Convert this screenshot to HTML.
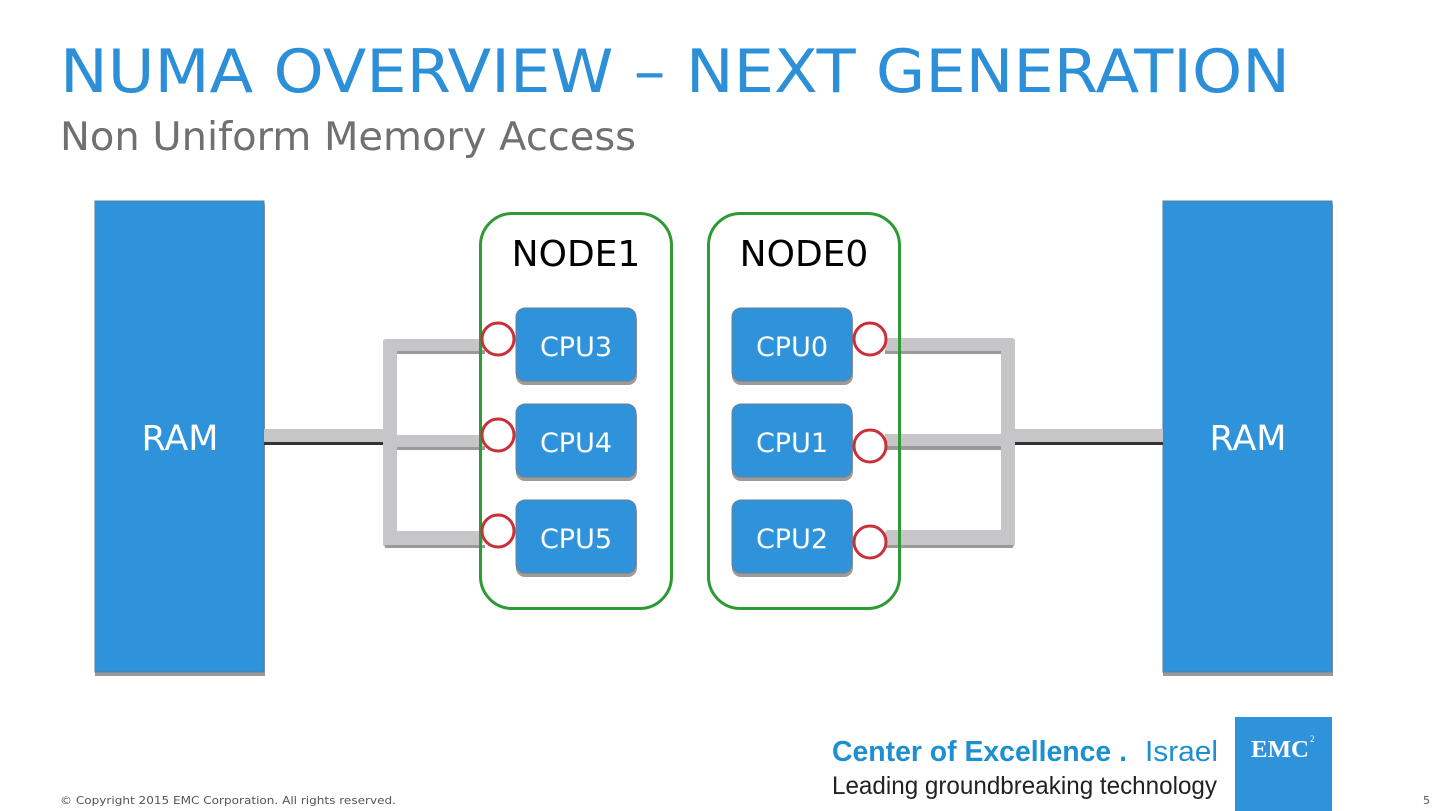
<!DOCTYPE html>
<html><head><meta charset="utf-8"><style>
html,body{margin:0;padding:0;background:#fff;}
svg{display:block;font-family:"DejaVu Sans","Liberation Sans",sans-serif;}
</style></head><body>
<svg width="1440" height="811" viewBox="0 0 1440 811" xmlns="http://www.w3.org/2000/svg">
<text x="60" y="92" font-size="60" fill="#2d8fd8" textLength="1230" lengthAdjust="spacingAndGlyphs">NUMA OVERVIEW – NEXT GENERATION</text>
<text x="60" y="150" font-size="39" fill="#707070" textLength="576" lengthAdjust="spacingAndGlyphs">Non Uniform Memory Access</text>

<!-- RAM boxes -->
<rect x="95" y="204" width="170" height="472" fill="#9a9a9a"/>
<rect x="95" y="201" width="169" height="471" fill="#2f93dc" stroke="#5a7fa0" stroke-width="1"/>
<text x="180" y="450" font-size="35" fill="#fff" text-anchor="middle">RAM</text>
<rect x="1163" y="204" width="170" height="472" fill="#9a9a9a"/>
<rect x="1163" y="201" width="169" height="471" fill="#2f93dc" stroke="#5a7fa0" stroke-width="1"/>
<text x="1248" y="450" font-size="35" fill="#fff" text-anchor="middle">RAM</text>

<!-- left bus -->
<g>
<rect x="264" y="441" width="120" height="4" fill="#333"/>
<rect x="264" y="429" width="120" height="13" fill="#c6c6c8"/>
<rect x="383" y="339" width="14" height="208" rx="3" fill="#c6c6c8"/>
<rect x="385" y="545" width="100" height="3" fill="#9a9a9a"/>
<rect x="397" y="350" width="88" height="4" fill="#9a9a9a"/>
<rect x="397" y="446" width="88" height="4" fill="#9a9a9a"/>
<rect x="383" y="339" width="100" height="12" rx="3" fill="#c6c6c8"/>
<rect x="383" y="435" width="100" height="12" fill="#c6c6c8"/>
<rect x="383" y="531" width="100" height="14" rx="3" fill="#c6c6c8"/>
</g>
<!-- right bus -->
<g>
<rect x="1015" y="441" width="148" height="4" fill="#333"/>
<rect x="1015" y="429" width="148" height="13" fill="#c6c6c8"/>
<rect x="1001" y="339" width="14" height="208" rx="3" fill="#c6c6c8"/>
<rect x="885" y="545" width="128" height="3" fill="#9a9a9a"/>
<rect x="885" y="350" width="116" height="4" fill="#9a9a9a"/>
<rect x="885" y="446" width="116" height="4" fill="#9a9a9a"/>
<rect x="885" y="338" width="130" height="13" rx="3" fill="#c6c6c8"/>
<rect x="885" y="434" width="130" height="12" fill="#c6c6c8"/>
<rect x="885" y="530" width="130" height="15" rx="3" fill="#c6c6c8"/>
</g>

<!-- nodes -->
<rect x="480.5" y="213.5" width="191" height="395" rx="32" fill="none" stroke="#2e9a34" stroke-width="3"/>
<rect x="708.5" y="213.5" width="191" height="395" rx="32" fill="none" stroke="#2e9a34" stroke-width="3"/>
<text x="576" y="266" font-size="36" fill="#000" text-anchor="middle">NODE1</text>
<text x="804" y="266" font-size="36" fill="#000" text-anchor="middle">NODE0</text>

<!-- CPUs -->
<g font-size="27" fill="#fff" text-anchor="middle">
<rect x="516" y="311" width="121" height="74" rx="9" fill="#9a9a9a"/>
<rect x="516" y="308" width="120" height="73" rx="9" fill="#2f93dc" stroke="#6a7f92"/>
<text x="576" y="356">CPU3</text>
<rect x="516" y="407" width="121" height="74" rx="9" fill="#9a9a9a"/>
<rect x="516" y="404" width="120" height="73" rx="9" fill="#2f93dc" stroke="#6a7f92"/>
<text x="576" y="452">CPU4</text>
<rect x="516" y="503" width="121" height="74" rx="9" fill="#9a9a9a"/>
<rect x="516" y="500" width="120" height="73" rx="9" fill="#2f93dc" stroke="#6a7f92"/>
<text x="576" y="548">CPU5</text>
<rect x="732" y="311" width="121" height="74" rx="9" fill="#9a9a9a"/>
<rect x="732" y="308" width="120" height="73" rx="9" fill="#2f93dc" stroke="#6a7f92"/>
<text x="792" y="356">CPU0</text>
<rect x="732" y="407" width="121" height="74" rx="9" fill="#9a9a9a"/>
<rect x="732" y="404" width="120" height="73" rx="9" fill="#2f93dc" stroke="#6a7f92"/>
<text x="792" y="452">CPU1</text>
<rect x="732" y="503" width="121" height="74" rx="9" fill="#9a9a9a"/>
<rect x="732" y="500" width="120" height="73" rx="9" fill="#2f93dc" stroke="#6a7f92"/>
<text x="792" y="548">CPU2</text>
</g>

<!-- ports -->
<g fill="#fff" stroke="#c8313a" stroke-width="3">
<circle cx="498" cy="339" r="16"/>
<circle cx="498" cy="435" r="16"/>
<circle cx="498" cy="531" r="16"/>
<circle cx="870" cy="339" r="16"/>
<circle cx="870" cy="446" r="16"/>
<circle cx="870" cy="542" r="16"/>
</g>

<!-- footer -->
<text x="832" y="761" font-size="29" font-weight="bold" fill="#1e8fd0" font-family="Liberation Sans, sans-serif" textLength="295" lengthAdjust="spacingAndGlyphs">Center of Excellence .</text>
<text x="1145" y="761" font-size="29" fill="#1e8fd0" font-family="Liberation Sans, sans-serif" textLength="73" lengthAdjust="spacingAndGlyphs">Israel</text>
<text x="832" y="794" font-size="25" fill="#222" font-family="Liberation Sans, sans-serif" textLength="385" lengthAdjust="spacingAndGlyphs">Leading groundbreaking technology</text>
<rect x="1235" y="717" width="97" height="94" fill="#2f93dc"/>
<text x="1251" y="757" font-size="24" font-weight="bold" fill="#fff" font-family="Liberation Serif, serif" textLength="58" lengthAdjust="spacingAndGlyphs">EMC</text>
<text x="1310" y="742" font-size="9" fill="#fff" font-family="Liberation Serif, serif">2</text>
<text x="60" y="804" font-size="11" fill="#555" textLength="336" lengthAdjust="spacingAndGlyphs">© Copyright 2015 EMC Corporation. All rights reserved.</text>
<text x="1423" y="804" font-size="11" fill="#555">5</text>
</svg>
</body></html>
